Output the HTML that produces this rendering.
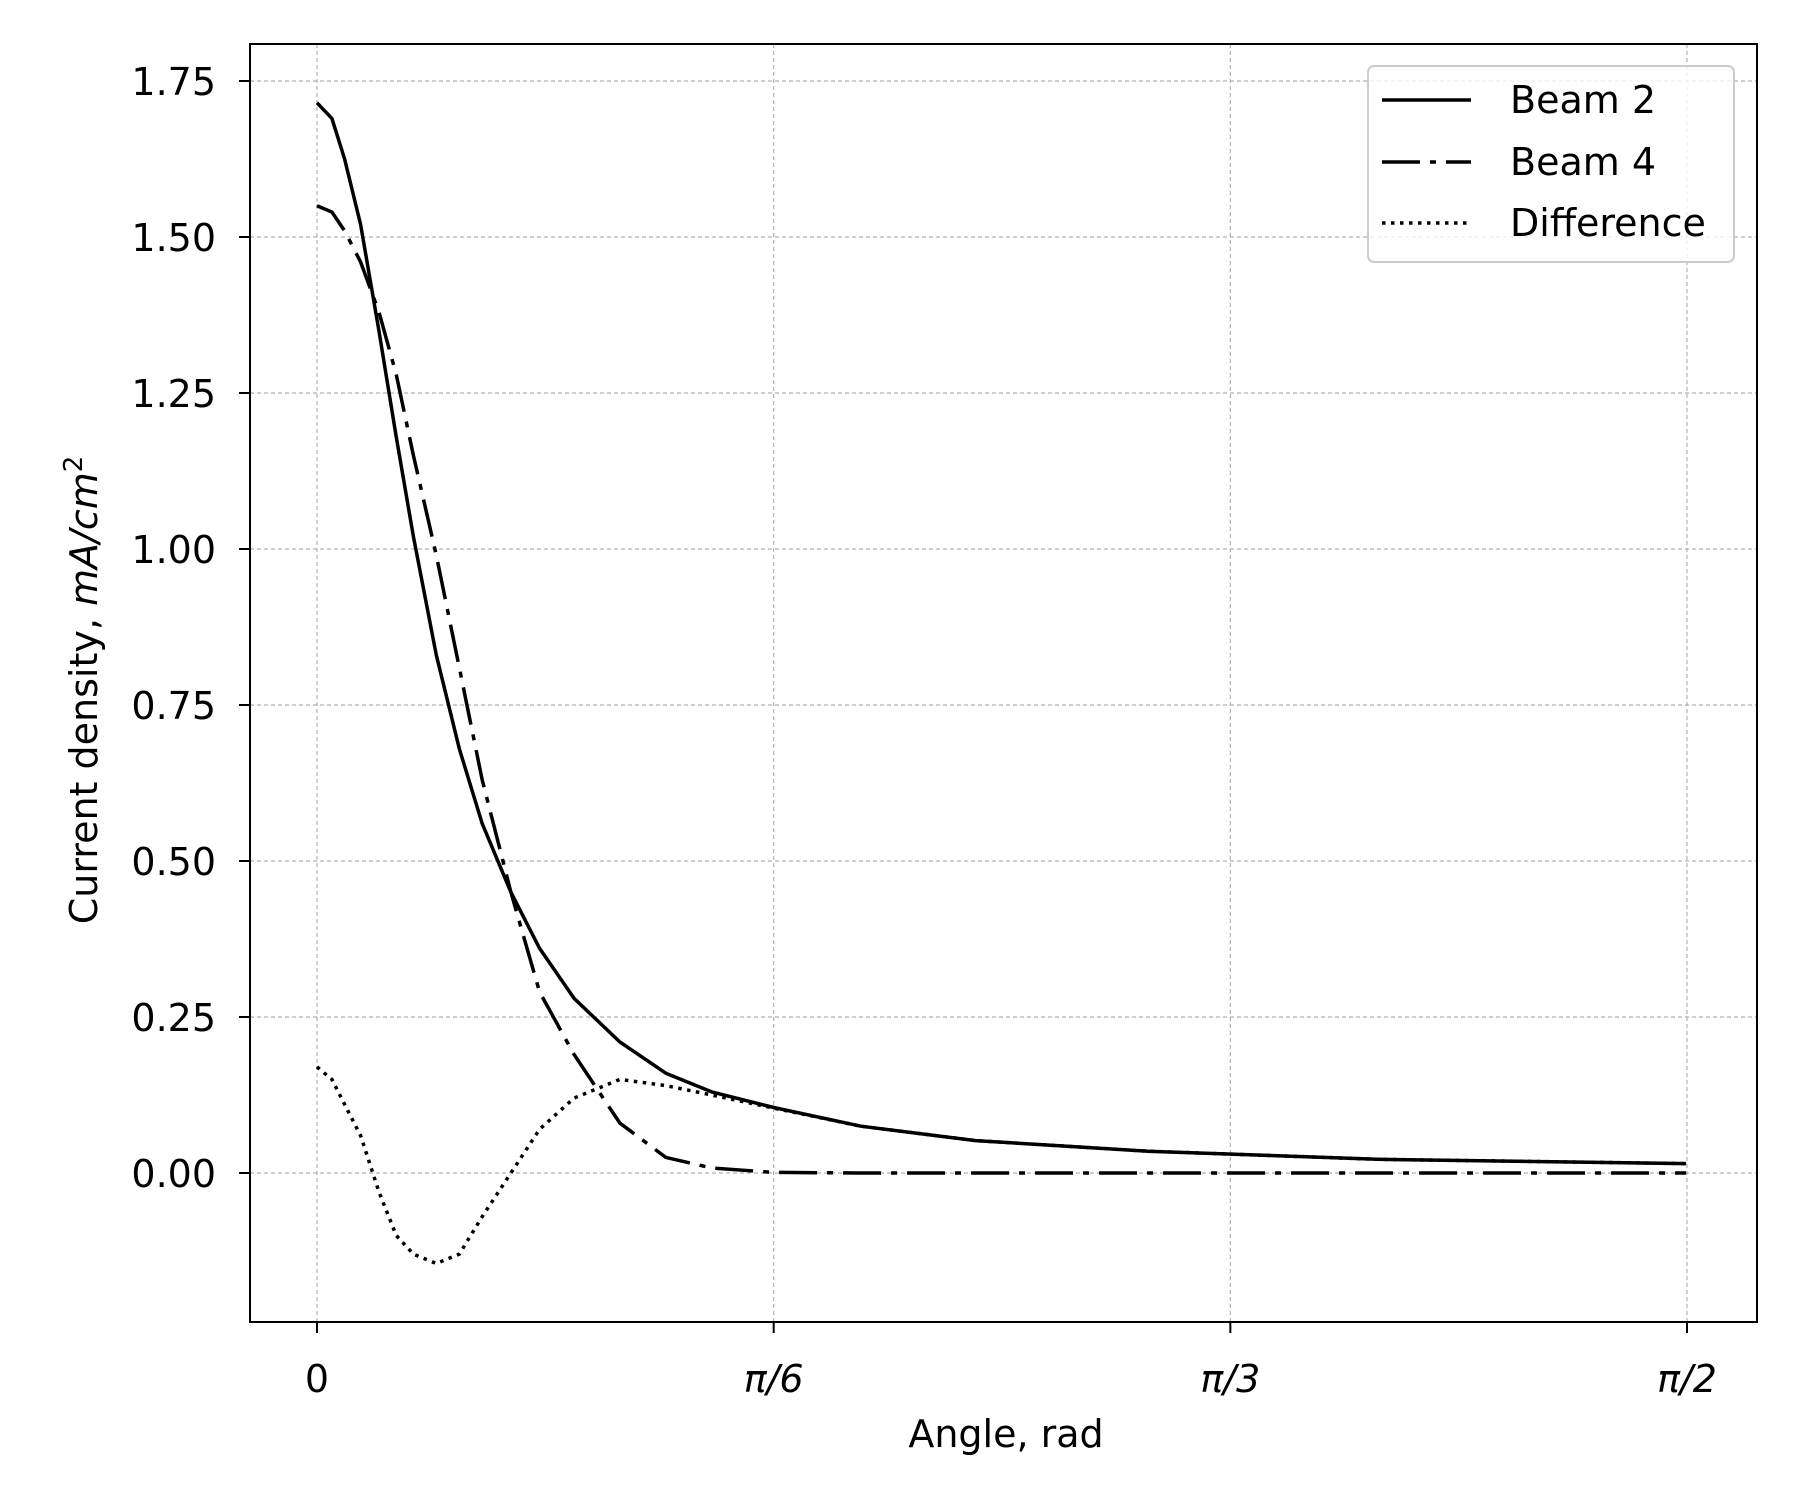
<!DOCTYPE html>
<html><head><meta charset="utf-8"><style>
body{margin:0;background:#fff}
svg text{font-family:"DejaVu Sans","Liberation Sans",sans-serif;fill:#000}
</style></head><body>
<svg id="chart" width="1800" height="1500" viewBox="0 0 1800 1500" xmlns="http://www.w3.org/2000/svg">
<rect width="1800" height="1500" fill="#fff"/>
<g id="grid"></g>
<g id="series"></g>
<rect x="250" y="44" width="1507" height="1278" fill="none" stroke="#000" stroke-width="2"/>
<g id="ticks"></g>
<text x="1006" y="1447" font-size="38" text-anchor="middle">Angle, rad</text>
<text transform="translate(97,690) rotate(-90)" font-size="38" text-anchor="middle">Current density, <tspan font-style="italic">mA/cm</tspan><tspan font-size="26" dy="-15">2</tspan></text>
<g>
<rect x="1368" y="66" width="366" height="196" rx="6" fill="#fff" fill-opacity="0.8" stroke="#ccc" stroke-width="2"/>
<line x1="1382" y1="100" x2="1471" y2="100" stroke="#000" stroke-width="3.5"/>
<text x="1510" y="113" font-size="38">Beam 2</text>
<line x1="1382" y1="162" x2="1471" y2="162" stroke="#000" stroke-width="3.5" stroke-dasharray="38 10 6 10"/>
<text x="1510" y="175" font-size="38">Beam 4</text>
<line x1="1382" y1="223" x2="1471" y2="223" stroke="#000" stroke-width="3.5" stroke-dasharray="3.5 5.5"/>
<text x="1510" y="236" font-size="38">Difference</text>
</g>
</svg>
<script>
const angles = [0,0.0171,0.0316,0.050,0.071,0.0908,0.1105,0.1368,0.1631,0.1894,0.2223,0.2552,0.2947,0.3473,0.3999,0.4526,0.5236,0.6236,0.7552,0.9525,1.2157,1.5698];
const beam2 = [1.715,1.69,1.625,1.52,1.35,1.18,1.02,0.83,0.68,0.56,0.45,0.36,0.28,0.21,0.16,0.13,0.105,0.075,0.052,0.035,0.022,0.015];
const beam4 = [1.55,1.54,1.51,1.46,1.38,1.28,1.15,0.99,0.81,0.63,0.45,0.29,0.19,0.08,0.025,0.008,0.001,0,0,0,0,0];
const difference = [0.17,0.15,0.11,0.06,-0.03,-0.10,-0.13,-0.145,-0.13,-0.07,0.0,0.07,0.12,0.15,0.14,0.125,0.104,0.075,0.052,0.035,0.022,0.015];
const yTicks = [0,0.25,0.5,0.75,1.0,1.25,1.5,1.75];
const yTickLabels = ["0.00","0.25","0.50","0.75","1.00","1.25","1.50","1.75"];
const xTicks = [0,Math.PI/6,Math.PI/3,Math.PI/2];
const xTickLabels = ["0","π/6","π/3","π/2"];

const NS="http://www.w3.org/2000/svg";
const xs = v => 317 + v/(Math.PI/2)*1370;
const ys = v => 1173 - v/1.75*1092;
function mk(tag, attrs, parent){const e=document.createElementNS(NS,tag);for(const k in attrs)e.setAttribute(k,attrs[k]);parent.appendChild(e);return e;}
const grid=document.getElementById('grid'), ticks=document.getElementById('ticks'), series=document.getElementById('series');
yTicks.forEach((v,i)=>{
  const g=mk('line',{x1:250,x2:1757,y1:ys(v),y2:ys(v),stroke:'#b0b0b0','stroke-width':1.2,'stroke-dasharray':'4 3'},grid);
  
  
  const t=mk('line',{x1:239,x2:250,y1:ys(v),y2:ys(v),stroke:'#000','stroke-width':2},ticks);
  
  
  const l=mk('text',{x:216,y:ys(v)+14,'font-size':38,'text-anchor':'end'},ticks);
  l.textContent=yTickLabels[i];
  
  
});
xTicks.forEach((v,i)=>{
  const g=mk('line',{x1:xs(v),x2:xs(v),y1:44,y2:1322,stroke:'#b0b0b0','stroke-width':1.2,'stroke-dasharray':'4 3'},grid);
  
  
  const t=mk('line',{x1:xs(v),x2:xs(v),y1:1322,y2:1333,stroke:'#000','stroke-width':2},ticks);
  
  
  const l=mk('text',{x:xs(v),y:1392,'font-size':38,'text-anchor':'middle','font-style':i?'italic':'normal'},ticks);
  l.textContent=xTickLabels[i];
  
  
});
function path(vals){return angles.map((a,i)=>(i?'L':'M')+xs(a).toFixed(1)+','+ys(vals[i]).toFixed(1)).join(' ');}
const p2=mk('path',{d:path(beam2),fill:'none',stroke:'#000','stroke-width':3.5,'stroke-linejoin':'round'},series);


const p4=mk('path',{d:path(beam4),fill:'none',stroke:'#000','stroke-width':3.5,'stroke-dasharray':'38 10 6 10'},series);


const pd=mk('path',{d:path(difference),fill:'none',stroke:'#000','stroke-width':3.5,'stroke-dasharray':'3.5 5.5'},series);


</script>
</body></html>
